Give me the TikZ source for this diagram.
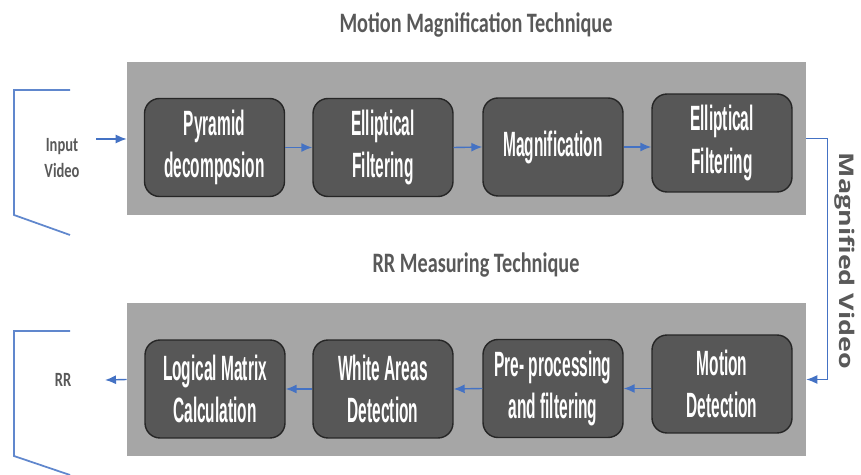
\documentclass[tikz,border=0pt]{standalone}
\usepackage{fontspec}
\setmainfont{Open Sans}
\newfontfamily\stagefont[FakeStretch=0.44]{Liberation Sans}
\newfontfamily\sidefont[FakeStretch=0.72]{Carlito}
\usetikzlibrary{arrows.meta}
\definecolor{panelgray}{HTML}{A6A6A6}
\definecolor{stagegray}{HTML}{575757}
\definecolor{linkblue}{HTML}{4472C4}
\definecolor{labelgray}{HTML}{595959}

\begin{document}
\begin{tikzpicture}[x=0.02cm, y=-0.02cm,
  panel/.style={fill=panelgray, minimum width=13.58cm, minimum height=3.06cm, inner sep=0pt},
  stage/.style={draw=black!85, fill=stagegray, line width=0.8pt, rounded corners=0.3cm,
    minimum width=2.8cm, minimum height=1.96cm, inner sep=0pt, text=white, align=center,
    font=\stagefont\bfseries\fontsize{20}{24}\selectfont},
  link/.style={linkblue, line width=0.8pt, -{Latex[length=2.2mm,width=1.8mm]}},
  bracket/.style={linkblue!85, line width=1pt},
  heading/.style={text=labelgray, font=\sidefont\bfseries\fontsize{16}{18}\selectfont},
  sidelabel/.style={text=labelgray, align=center, font=\sidefont\bfseries\fontsize{11.5}{15}\selectfont}]
        \useasboundingbox (0,0) rectangle (861,475);
        % upper block
        \node[heading] (toptitle) at (476,25) {Motion Magnification Technique};
        \node[panel] (toppanel) at (466.5,138.5) {};
        \node[stage] (pyramid) at (214.5,147.5) {Pyramid\\decomposion};
        \node[stage] (ellipA) at (383,147.5) {Elliptical\\Filtering};
        \node[stage] (magnif) at (553,147) {Magnification};
        \node[stage] (ellipB) at (722,143) {Elliptical\\Filtering};
        \draw[link] (pyramid.east) -- (ellipA.west);
        \draw[link] (ellipA.east) -- (magnif.west);
        \draw[link] (magnif.east) -- (magnif.east -| ellipB.west);
        % input side
        \draw[bracket] (70,90) -- (14,90) -- (14,215) -- (70,235);
        \node[sidelabel] (input) at (62,158) {Input\\Video};
        \coordinate (inStart) at (96,139);
        \draw[link] (inStart) -- (inStart -| toppanel.west);
        % lower block
        \node[heading] (bottitle) at (476,265) {RR Measuring Technique};
        \node[panel] (botpanel) at (466.5,379.5) {};
        \node[stage] (motion) at (722,384) {Motion\\Detection};
        \node[stage] (prepro) at (553,388.5) {Pre- processing\\and filtering};
        \node[stage] (white) at (383,389) {White Areas\\Detection};
        \node[stage] (logical) at (215,389) {Logical Matrix\\Calculation};
        \draw[link] (motion.west |- prepro.east) -- (prepro.east);
        \draw[link] (prepro.west) -- (white.east);
        \draw[link] (white.west) -- (logical.east);
        % output side
        \draw[bracket] (70,331) -- (14,331) -- (14,456) -- (70,475);
        \node[sidelabel] (rr) at (63,380) {RR};
        \coordinate (rrEnd) at (105,380);
        \draw[link] (botpanel.west) -- (rrEnd);
        % between the blocks
        \draw[link] (toppanel.east) -- ++(21,0) |- (botpanel.east);
        \node[text=labelgray, rotate=-90, font=\bfseries\fontsize{15.3}{17}\selectfont] (magvideo) at (845,261) {\scalebox{1}[0.75]{Magnified Video}};
\end{tikzpicture}
\end{document}
